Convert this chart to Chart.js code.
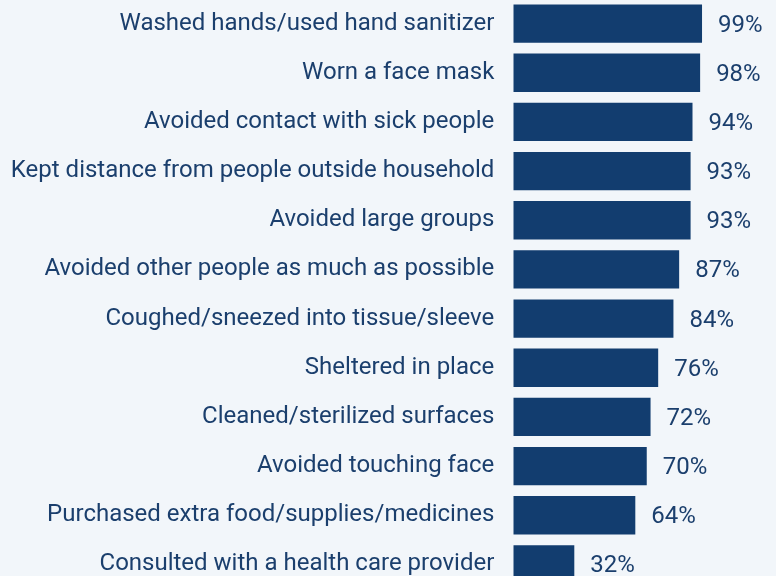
<!DOCTYPE html>
<html>
<head>
<meta charset="utf-8">
<script src="https://cdn.jsdelivr.net/npm/chart.js@4.4.0/dist/chart.umd.min.js"></script>
<style>
    html, body { margin: 0; padding: 0; background: #f2f6fa; overflow: hidden; }
    #wrap { position: absolute; left: 0; top: -1px; width: 776px; height: 590px; }
</style>
</head>
<body>
<div id="wrap"><canvas id="behaviorChart"></canvas></div>
<script>
// ========== بيانات الرسم ==========
const categories = [
    'Washed hands/used hand sanitizer',
    'Worn a face mask',
    'Avoided contact with sick people',
    'Kept distance from people outside household',
    'Avoided large groups',
    'Avoided other people as much as possible',
    'Coughed/sneezed into tissue/sleeve',
    'Sheltered in place',
    'Cleaned/sterilized surfaces',
    'Avoided touching face',
    'Purchased extra food/supplies/medicines',
    'Consulted with a health care provider'
];
const percentValues = [99, 98, 94, 93, 93, 87, 84, 76, 72, 70, 64, 32];

const NAVY = '#123d6f';
const TEXT = '#1b3f6d';
const FONT = 'Roboto';

// كتابة القيم بجانب الأعمدة
const valueLabels = {
    id: 'valueLabels',
    afterDatasetsDraw(chart) {
        const ctx = chart.ctx;
        const meta = chart.getDatasetMeta(0);
        ctx.save();
        ctx.font = `24px ${FONT}`;
        ctx.fillStyle = TEXT;
        ctx.textAlign = 'left';
        ctx.textBaseline = 'middle';
        meta.data.forEach((bar, i) => {
            ctx.fillText(percentValues[i] + '%', bar.x + 16, bar.y + 2);
        });
        ctx.restore();
    }
};

const ctx = document.getElementById('behaviorChart').getContext('2d');
new Chart(ctx, {
    type: 'bar',
    data: {
        labels: categories,
        datasets: [{
            data: percentValues,
            backgroundColor: NAVY,
            borderWidth: 0,
            barPercentage: 0.78,
            categoryPercentage: 1.0
        }]
    },
    options: {
        indexAxis: 'y',
        responsive: true,
        maintainAspectRatio: false,
        animation: false,
        layout: { padding: 0 },
        plugins: {
            legend: { display: false },
            tooltip: { enabled: false }
        },
        scales: {
            x: {
                display: false,
                min: 0,
                max: 137.8
            },
            y: {
                afterFit: (scale) => {
                    scale.width = 513.3;
                    scale.paddingTop = 0;
                    scale.paddingBottom = 0;
                },
                grid: { display: false, drawTicks: false },
                border: { display: false },
                ticks: {
                    padding: 19,
                    color: TEXT,
                    font: { family: FONT, size: 24 }
                }
            }
        }
    },
    plugins: [valueLabels]
});
</script>
</body>
</html>
